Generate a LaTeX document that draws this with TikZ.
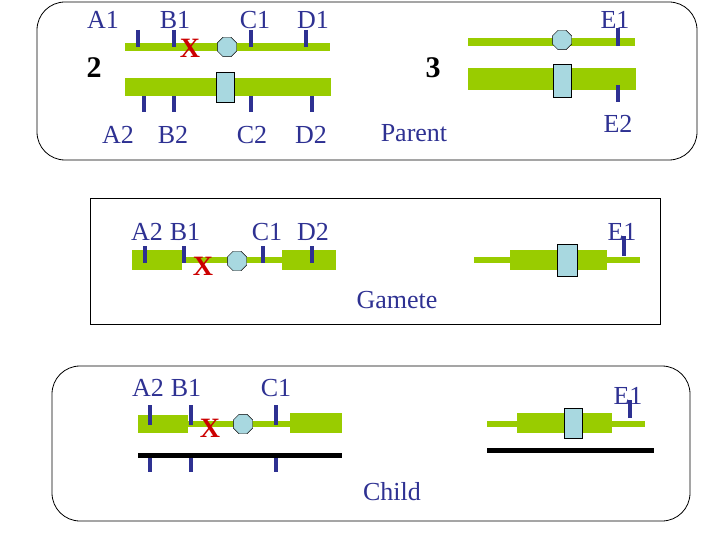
\documentclass[tikz,border=0pt]{standalone}
\usepackage{fontspec}
\setmainfont{Liberation Serif}
\usetikzlibrary{shapes.geometric}
\definecolor{gr}{HTML}{99CC00}
\definecolor{nv}{HTML}{2E3192}
\definecolor{lb}{HTML}{A8D8E0}
\begin{document}
\begin{tikzpicture}[x=1pt,y=-1pt,
 lab/.style={text=nv,font=\fontsize{26}{26}\selectfont,inner sep=0},
 mk/.style={draw=nv,line width=4.5pt},
 bar/.style={fill=gr,draw=none},
 oct/.style={regular polygon,regular polygon sides=8,draw,fill=lb,minimum size=21pt,inner sep=0},
 crs/.style={text=red!80!black,font=\bfseries\fontsize{28}{28}\selectfont,inner sep=0},
 box/.style={draw,line width=0.8pt}]
\useasboundingbox (0,0) rectangle (720,540);
% top box
\draw[box,rounded corners=28pt] (37,2) rectangle (697,160);
\fill[bar] (125,43) rectangle (330,51);
\fill[bar] (125,78) rectangle (331,96);
\foreach \x in {138,174,251,306} \draw[mk] (\x,30) -- (\x,47);
\foreach \x in {144,174,251,312} \draw[mk] (\x,96) -- (\x,112);
\node[oct] (o1) at (227,47) {};
\draw[fill=lb] (216,72) rectangle (234,102);
\node[crs] (x1) at (190,48) {X};
\node[lab] (a1) at (103,20) {A1};
\node[lab] (b1) at (175,20) {B1};
\node[lab] (c1) at (255,20) {C1};
\node[lab] (d1) at (313,20) {D1};
\node[lab] (a2) at (118,135) {A2};
\node[lab] (b2) at (173,135) {B2};
\node[lab] (c2) at (252,135) {C2};
\node[lab] (d2) at (311,135) {D2};
\node[font=\bfseries\fontsize{30}{30}\selectfont] (n2) at (94,68) {2};
\node[font=\bfseries\fontsize{30}{30}\selectfont] (n3) at (433,68) {3};
\node[lab] (par) at (414,133) {Parent};
\fill[bar] (468,38) rectangle (635,46);
\draw[mk] (618,28) -- (618,46);
\node[oct] (o2) at (562,40) {};
\fill[bar] (468,68) rectangle (636,90);
\draw[mk] (618,85) -- (618,102);
\draw[fill=lb] (553,64) rectangle (571,97);
\node[lab] (e1) at (615,20) {E1};
\node[lab] (e2) at (618,124) {E2};
% middle box
\draw[box] (90,198) rectangle (660,324);
\fill[bar] (132,250) rectangle (182,270);
\fill[bar] (182,257) rectangle (282,263);
\fill[bar] (282,250) rectangle (336,270);
\foreach \x in {145,184,263,312} \draw[mk] (\x,246) -- (\x,263);
\node[oct] (o3) at (237,261) {};
\node[crs] (x2) at (203,266) {X};
\node[lab] (ga2) at (147,232) {A2};
\node[lab] (gb1) at (185,232) {B1};
\node[lab] (gc1) at (267,232) {C1};
\node[lab] (gd2) at (313,232) {D2};
\fill[bar] (474,257) rectangle (640,263);
\fill[bar] (510,250) rectangle (607,270);
\draw[fill=lb] (557,244) rectangle (577,276);
\draw[mk] (624,236) -- (624,256);
\node[lab] (ge1) at (622,232) {E1};
\node[lab] (gam) at (397,300) {Gamete};
% bottom box
\draw[box,rounded corners=28pt] (52,366) rectangle (690,521);
\fill[bar] (138,415) rectangle (188,433);
\fill[bar] (188,421) rectangle (290,427);
\fill[bar] (290,413) rectangle (342,433);
\foreach \x in {150,191,276} \draw[mk] (\x,405) -- (\x,425);
\foreach \x in {150,191,276} \draw[mk] (\x,455) -- (\x,472);
\draw[line width=5pt] (138,455) -- (342,455);
\node[oct] (o4) at (243,424) {};
\node[crs] (x3) at (210,428) {X};
\node[lab] (ca2) at (148,388) {A2};
\node[lab] (cb1) at (186,388) {B1};
\node[lab] (cc1) at (276,388) {C1};
\fill[bar] (487,421) rectangle (645,427);
\fill[bar] (517,413) rectangle (612,433);
\draw[fill=lb] (564,408) rectangle (582,438);
\draw[mk] (630,400) -- (630,418);
\draw[line width=5pt] (487,450) -- (654,450);
\node[lab] (ce1) at (628,396) {E1};
\node[lab] (chi) at (392,492) {Child};
\end{tikzpicture}
\end{document}
